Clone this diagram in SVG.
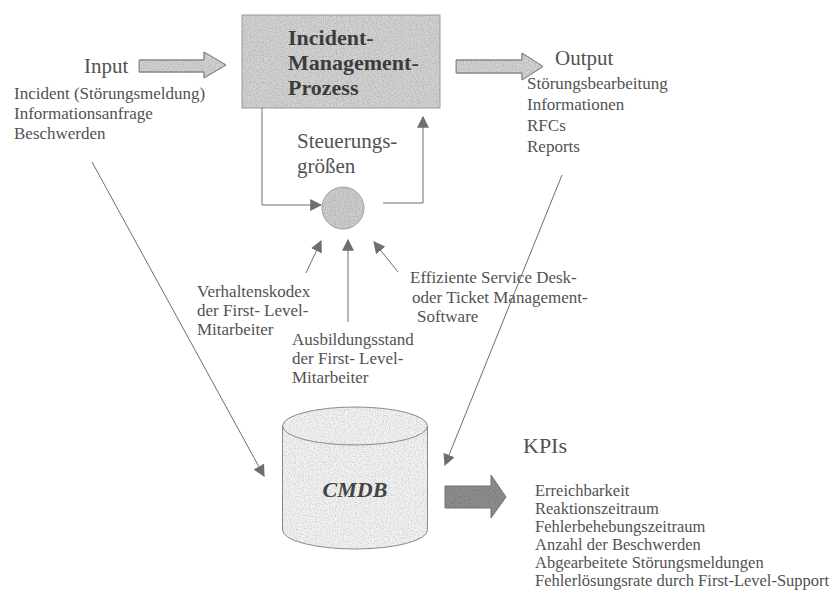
<svg xmlns="http://www.w3.org/2000/svg" width="832" height="600" viewBox="0 0 832 600">
  <style>
    text { font-family: "Liberation Serif", "Times New Roman", serif; fill: #525252; }
    .big { font-size: 21px; }
    .lbl { font-size: 17px; }
    .kpi { font-size: 16.5px; }
    .title { font-size: 22px; font-weight: bold; fill: #3c3c3c; }
    .conn { fill: none; stroke: #6e6e6e; stroke-width: 1; }
    .block { fill: #d2d2d2; stroke: #8a8a8a; stroke-width: 1; }
    .grain { filter: url(#grain); }
  </style>
  <defs>
    <marker id="tri" viewBox="0 0 10 10" refX="9" refY="5" markerWidth="12" markerHeight="12" markerUnits="userSpaceOnUse" orient="auto">
      <path d="M0,0 L10,5 L0,10 Z" fill="#6e6e6e"/>
    </marker>
    <!-- fine stipple for the printed-look fills -->
    <filter id="grain" x="0" y="0" width="100%" height="100%">
      <feTurbulence type="fractalNoise" baseFrequency="0.85" numOctaves="1" seed="4" result="noise"/>
      <feColorMatrix in="noise" type="matrix" values="0 0 0 0 0  0 0 0 0 0  0 0 0 0 0  0.9 0 0 0 -0.38" result="dots"/>
      <feComposite in="dots" in2="SourceGraphic" operator="in" result="clipped"/>
      <feMerge><feMergeNode in="SourceGraphic"/><feMergeNode in="clipped"/></feMerge>
    </filter>
  </defs>

  <rect width="832" height="600" fill="#ffffff"/>

  <!-- Process box -->
  <g id="process">
    <rect class="grain" x="242" y="15" width="198" height="93" fill="#d2d2d2"/>
    <rect x="242" y="15" width="198" height="93" fill="none" stroke="#9a9a9a" stroke-width="1"/>
    <text class="title" x="288" y="45">Incident-</text>
    <text class="title" x="288" y="70">Management-</text>
    <text class="title" x="288" y="95">Prozess</text>
  </g>

  <!-- Input -->
  <g id="input">
    <text class="big" x="84" y="73">Input</text>
    <path class="block grain" d="M139,60 H204 V52 L226,65 L204,78 V72 H139 Z"/>
    <path d="M139,60 H204 V52 L226,65 L204,78 V72 H139 Z" fill="none" stroke="#8a8a8a"/>
    <text class="lbl" x="14" y="99">Incident (Störungsmeldung)</text>
    <text class="lbl" x="14" y="119">Informationsanfrage</text>
    <text class="lbl" x="14" y="139">Beschwerden</text>
  </g>

  <!-- Output -->
  <g id="output">
    <path class="block grain" d="M456,60 H522 V53 L543,66.5 L522,80 V73 H456 Z"/>
    <path d="M456,60 H522 V53 L543,66.5 L522,80 V73 H456 Z" fill="none" stroke="#8a8a8a"/>
    <text class="big" x="555" y="65">Output</text>
    <text class="lbl" x="527" y="89">Störungsbearbeitung</text>
    <text class="lbl" x="527" y="110">Informationen</text>
    <text class="lbl" x="527" y="131">RFCs</text>
    <text class="lbl" x="527" y="152">Reports</text>
  </g>

  <!-- Control variables -->
  <g id="steuerung">
    <text class="big" x="297" y="148">Steuerungs-</text>
    <text class="big" x="297" y="173">größen</text>
    <circle class="grain" cx="343" cy="208" r="21" fill="#cdcdcd"/>
    <circle cx="343" cy="208" r="21" fill="none" stroke="#a0a0a0" stroke-width="1"/>
  </g>

  <!-- Influencing factors -->
  <g id="verhaltenskodex">
    <text class="lbl" x="197" y="297">Verhaltenskodex</text>
    <text class="lbl" x="197" y="316">der First- Level-</text>
    <text class="lbl" x="197" y="335">Mitarbeiter</text>
  </g>
  <g id="ausbildungsstand">
    <text class="lbl" x="292" y="345">Ausbildungsstand</text>
    <text class="lbl" x="292" y="364">der First- Level-</text>
    <text class="lbl" x="292" y="383">Mitarbeiter</text>
  </g>
  <g id="software">
    <text class="lbl" x="410" y="283">Effiziente Service Desk-</text>
    <text class="lbl" x="412" y="303">oder Ticket Management-</text>
    <text class="lbl" x="417" y="322">Software</text>
  </g>

  <!-- CMDB -->
  <g id="cmdb">
    <path class="grain" d="M282.5,426 V530 A72.5,19 0 0 0 427.5,530 V426 A72.5,19 0 0 0 282.5,426 Z" fill="#f3f3f3"/>
    <path d="M282.5,426 V530 A72.5,19 0 0 0 427.5,530 V426" fill="none" stroke="#8a8a8a" stroke-width="1"/>
    <ellipse cx="355" cy="426" rx="72.5" ry="19" fill="none" stroke="#8a8a8a" stroke-width="1"/>
    <text x="355" y="497" text-anchor="middle" style="font-size:22px;font-weight:bold;font-style:italic;fill:#444">CMDB</text>
  </g>

  <!-- KPIs -->
  <g id="kpis">
    <path class="grain" d="M445,486 H491 V475 L506,497 L491,518 V508 H445 Z" fill="#8e8e8e"/>
    <path d="M445,486 H491 V475 L506,497 L491,518 V508 H445 Z" fill="none" stroke="#707070" stroke-width="1"/>
    <text x="523" y="453" style="font-size:22px">KPIs</text>
    <text class="kpi" x="535" y="496">Erreichbarkeit</text>
    <text class="kpi" x="535" y="514">Reaktionszeitraum</text>
    <text class="kpi" x="535" y="532">Fehlerbehebungszeitraum</text>
    <text class="kpi" x="535" y="550">Anzahl der Beschwerden</text>
    <text class="kpi" x="535" y="568">Abgearbeitete Störungsmeldungen</text>
    <text class="kpi" x="535" y="586">Fehlerlösungsrate durch First-Level-Support</text>
  </g>

  <!-- Connectors -->
  <g id="connectors">
    <polyline class="conn" points="262,108 262,205 321,205" marker-end="url(#tri)"/>
    <polyline class="conn" points="383,203 423,203 423,117" marker-end="url(#tri)"/>
    <line class="conn" x1="306" y1="273" x2="321" y2="241" marker-end="url(#tri)"/>
    <line class="conn" x1="348" y1="322" x2="348" y2="240" marker-end="url(#tri)"/>
    <line class="conn" x1="398" y1="272" x2="374" y2="242" marker-end="url(#tri)"/>
    <line class="conn" x1="92" y1="162" x2="264" y2="476" marker-end="url(#tri)"/>
    <line class="conn" x1="562" y1="175" x2="445" y2="465" marker-end="url(#tri)"/>
  </g>
</svg>
